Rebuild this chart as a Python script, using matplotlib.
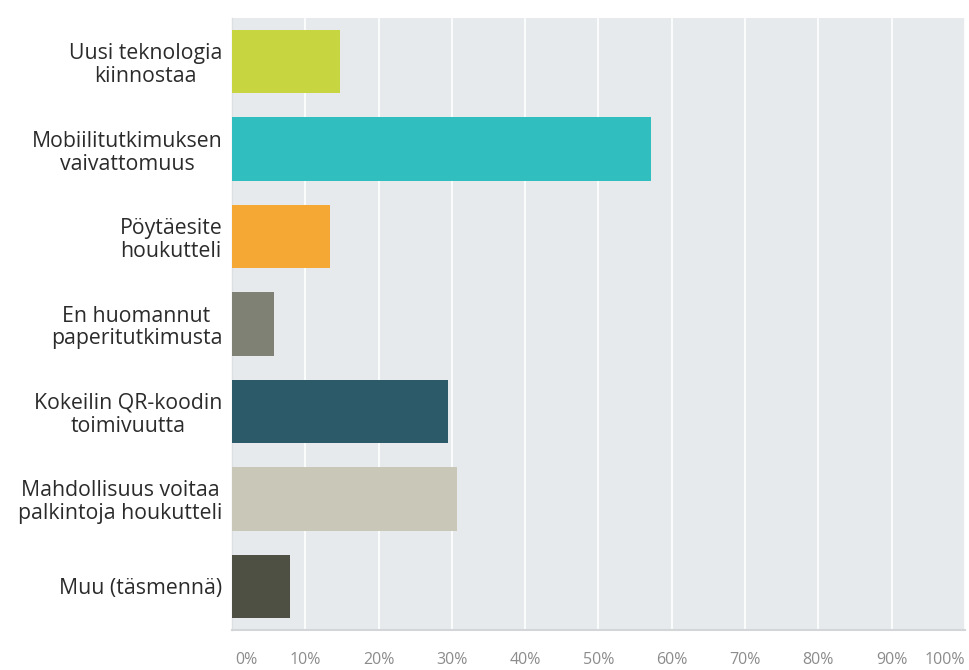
import matplotlib
matplotlib.use("Agg")
import matplotlib.pyplot as plt
from matplotlib.transforms import ScaledTranslation

categories = [
    "Uusi teknologia\nkiinnostaa",
    "Mobiilitutkimuksen\nvaivattomuus",
    "Pöytäesite\nhoukutteli",
    "En huomannut\npaperitutkimusta",
    "Kokeilin QR-koodin\ntoimivuutta",
    "Mahdollisuus voitaa\npalkintoja houkutteli",
    "Muu (täsmennä)",
]
values = [14.7, 57.1, 13.4, 5.7, 29.5, 30.7, 7.9]
colors = ["#c6d540", "#31bebe", "#f5a833", "#7e8174", "#2c5a69", "#c9c8b8", "#4e5044"]
ticks = [0, 10, 20, 30, 40, 50, 60, 70, 80, 90, 100]
tick_labels = [f"{t}%" for t in ticks]

plt.rcParams["font.family"] = ["Open Sans", "DejaVu Sans"]

fig = plt.figure(figsize=(9.7, 6.7), dpi=100)
ax = fig.add_axes([232 / 970, 1 - 630 / 670, 733 / 970, 612 / 670])
ax.set_facecolor("#e7eaed")

y = list(range(len(categories)))
ax.barh(y, values, height=0.727, color=colors, zorder=3)

ax.set_xlim(0, 100)
ax.set_ylim(len(categories) - 0.5, -0.5)
ax.set_xticks(ticks)
ax.set_xticklabels(tick_labels, fontsize=11.5, color="#8c8c8c")
ax.tick_params(axis="x", length=0, pad=16)
ax.set_yticks(y)
ax.set_yticklabels(categories, fontsize=15.3, color="#2b2b2b",
                   linespacing=1.12, multialignment="center")
ax.tick_params(axis="y", length=0, pad=7)

ax.grid(axis="x", color="white", linewidth=1.2, zorder=1)
ax.grid(axis="y", visible=False)

for side in ["top", "right"]:
    ax.spines[side].set_visible(False)
ax.spines["left"].set_color("#dde0e3")
ax.spines["left"].set_linewidth(1.0)
ax.spines["bottom"].set_color("#d3d6d9")
ax.spines["bottom"].set_linewidth(1.5)

labels = ax.get_xticklabels()
labels[0].set_transform(labels[0].get_transform() + ScaledTranslation(14 / 100, 0, fig.dpi_scale_trans))
labels[-1].set_horizontalalignment("right")

fig.savefig("out.png", dpi=100, facecolor="white")
